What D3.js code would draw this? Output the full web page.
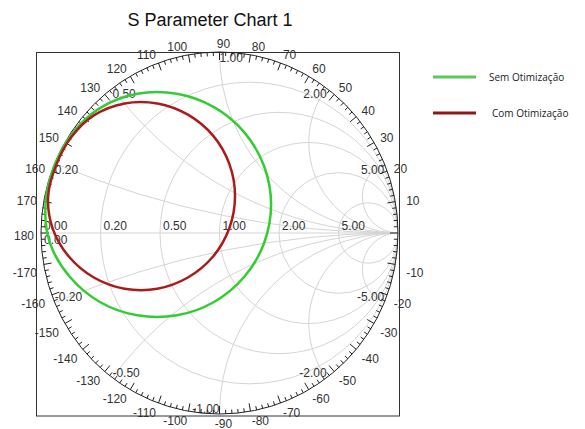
<!DOCTYPE html>
<html>
<head>
<meta charset="utf-8">
<script src="https://cdn.jsdelivr.net/npm/d3@7"></script>
<style>
  body { margin: 0; background: #fff; }
  svg { display: block; }
</style>
</head>
<body>
<svg id="chart" width="585" height="429"></svg>
<script>
// grid values of the smith chart
const resistanceValues = [0.2, 0.5, 1, 2, 5];
const reactanceValues = [0.2, 0.5, 1, 2, 5, -0.2, -0.5, -1, -2, -5];
const angleLabels = [10, 20, 30, 40, 50, 60, 70, 80, 90, 100, 110, 120, 130, 140, 150, 160, 170, 180,
    -10, -20, -30, -40, -50, -60, -70, -80, -90, -100, -110, -120, -130, -140, -150, -160, -170];

const semOtimizacao = [
    [0.289, 0.157], [0.250, 0.369], [0.139, 0.556], [-0.031, 0.695], [-0.239, 0.769],
    [-0.461, 0.769], [-0.670, 0.690], [-0.825, 0.550], [-0.930, 0.360], [-0.975, 0.155],
    [-0.950, -0.055], [-0.839, -0.242], [-0.670, -0.381], [-0.461, -0.455], [-0.239, -0.455],
    [-0.031, -0.381], [0.139, -0.242], [0.250, -0.055]
];
const comOtimizacao = [
    [0.087, 0.204], [0.055, 0.382], [-0.036, 0.538], [-0.177, 0.654], [-0.348, 0.716],
    [-0.532, 0.716], [-0.704, 0.650], [-0.830, 0.530], [-0.915, 0.375], [-0.960, 0.204],
    [-0.935, 0.026], [-0.844, -0.130], [-0.704, -0.246], [-0.532, -0.308], [-0.348, -0.308],
    [-0.177, -0.246], [-0.036, -0.130], [0.055, 0.026]
];

const series = [
    { name: "Sem Otimização", color: "#33cc33", legendColor: "#5cc85c", data: semOtimizacao },
    { name: "Com Otimização", color: "#aa1c1c", legendColor: "#8b1a1a", data: comOtimizacao }
];

const svg = d3.select("#chart");
const xScale = d3.scaleLinear().domain([-1, 1]).range([41, 398]);
const yScale = d3.scaleLinear().domain([-1, 1]).range([414, 52]);
const rx = (xScale(1) - xScale(-1)) / 2;
const ry = (yScale(-1) - yScale(1)) / 2;
const cx = xScale(0), cy = yScale(0);
const labelFont = "Liberation Sans, Arial, sans-serif";

svg.append("text")
    .attr("x", 210).attr("y", 26)
    .attr("text-anchor", "middle")
    .attr("font-family", labelFont)
    .attr("font-size", 18)
    .attr("fill", "#111")
    .text("S Parameter Chart 1");

svg.append("rect")
    .attr("x", 36.5).attr("y", 52.5).attr("width", 363).attr("height", 363.5)
    .attr("fill", "none").attr("stroke", "#333").attr("stroke-width", 1);

svg.append("clipPath").attr("id", "unit")
    .append("ellipse").attr("cx", cx).attr("cy", cy).attr("rx", rx).attr("ry", ry);

const grid = svg.append("g").attr("clip-path", "url(#unit)")
    .attr("fill", "none").attr("stroke", "#d4d4d4").attr("stroke-width", 1);

grid.append("line")
    .attr("x1", xScale(-1)).attr("x2", xScale(1))
    .attr("y1", cy).attr("y2", cy);

grid.selectAll(".r-circle")
    .data(resistanceValues)
    .join("ellipse")
    .attr("class", "r-circle")
    .attr("cx", r => xScale(r / (1 + r)))
    .attr("cy", cy)
    .attr("rx", r => rx / (1 + r))
    .attr("ry", r => ry / (1 + r));

grid.selectAll(".x-circle")
    .data(reactanceValues)
    .join("ellipse")
    .attr("class", "x-circle")
    .attr("cx", xScale(1))
    .attr("cy", x => yScale(1 / x))
    .attr("rx", x => rx / Math.abs(x))
    .attr("ry", x => ry / Math.abs(x));

// resistance labels on the real axis
svg.selectAll(".r-label")
    .data([0].concat(resistanceValues))
    .join("text")
    .attr("class", "r-label")
    .attr("x", r => xScale((r - 1) / (r + 1)) + 3)
    .attr("y", cy - 3)
    .attr("font-family", labelFont).attr("font-size", 12).attr("fill", "#333")
    .text(r => r.toFixed(2));

svg.append("text")
    .attr("x", xScale(-1) + 3).attr("y", cy + 11)
    .attr("font-family", labelFont).attr("font-size", 12).attr("fill", "#333")
    .text("0.00");

// reactance labels on the outer circle
const reactancePoint = x => {
    const den = 1 + x * x;
    return [(x * x - 1) / den, 2 * x / den];
};
svg.selectAll(".x-label")
    .data(reactanceValues)
    .join("text")
    .attr("class", "x-label")
    .attr("x", x => xScale(reactancePoint(x)[0]))
    .attr("y", x => yScale(reactancePoint(x)[1]))
    .attr("dy", x => x > 0 ? "0.85em" : "-0.1em")
    .attr("text-anchor", x => {
        const re = reactancePoint(x)[0];
        if (x > 0) return re <= 0 ? "start" : "end";
        return re < 0 ? "start" : "end";
    })
    .attr("font-family", labelFont).attr("font-size", 12).attr("fill", "#333")
    .text(x => x.toFixed(2));

// outer circle with angle ticks
svg.append("ellipse")
    .attr("cx", cx).attr("cy", cy).attr("rx", rx).attr("ry", ry)
    .attr("fill", "none").attr("stroke", "#222").attr("stroke-width", 1);

const tickLength = a => a % 10 === 0 ? 8 : (a % 5 === 0 ? 6 : 4);
const rad = a => a * Math.PI / 180;
svg.selectAll(".angle-tick")
    .data(d3.range(-178, 181, 2))
    .join("line")
    .attr("class", "angle-tick")
    .attr("x1", a => cx + rx * Math.cos(rad(a)))
    .attr("y1", a => cy - ry * Math.sin(rad(a)))
    .attr("x2", a => cx + (rx - tickLength(a)) * Math.cos(rad(a)))
    .attr("y2", a => cy - (ry - tickLength(a)) * Math.sin(rad(a)))
    .attr("stroke", "#222").attr("stroke-width", 1);

// label centre sits a little off the radial point, lower on the bottom half
const labelShift = a => {
    const s = Math.sin(rad(a));
    return s >= 0 ? 3 - 7.5 * Math.sqrt(s) : 7.5 - 0.5 * s - 2.5 * s * s;
};
svg.selectAll(".angle-label")
    .data(angleLabels)
    .join("text")
    .attr("class", "angle-label")
    .attr("x", a => cx + (rx + 7) * Math.cos(rad(a)) + (Math.abs(a) === 90 ? 4 : 0) + (Math.abs(a) === 10 ? 4 : 0))
    .attr("y", a => cy - (ry + 4) * Math.sin(rad(a)) + labelShift(a) + 4.2)
    .attr("text-anchor", a => {
        if (Math.abs(a) === 90) return "middle";
        return Math.abs(a) > 90 ? "end" : "start";
    })
    .attr("font-family", labelFont).attr("font-size", 12).attr("fill", "#333")
    .text(a => a);

// traces
const line = d3.line()
    .x(d => xScale(d[0]))
    .y(d => yScale(d[1]))
    .curve(d3.curveCatmullRomClosed);

svg.selectAll(".trace")
    .data(series)
    .join("path")
    .attr("class", "trace")
    .attr("d", d => line(d.data))
    .attr("fill", "none")
    .attr("stroke", d => d.color)
    .attr("stroke-width", 2.5);

// legend
const legend = svg.append("g").attr("transform", "translate(433, 77)");
const items = legend.selectAll("g")
    .data(series)
    .join("g")
    .attr("transform", (d, i) => `translate(0, ${i * 36})`);
items.append("line")
    .attr("x1", 0).attr("x2", 43)
    .attr("stroke", d => d.legendColor).attr("stroke-width", 3);
items.append("text")
    .attr("x", (d, i) => i === 0 ? 56 : 59)
    .attr("dy", "0.35em")
    .attr("font-family", "Open Sans, sans-serif").attr("font-size", 10).attr("fill", "#222")
    .text(d => d.name);
</script>
</body>
</html>
